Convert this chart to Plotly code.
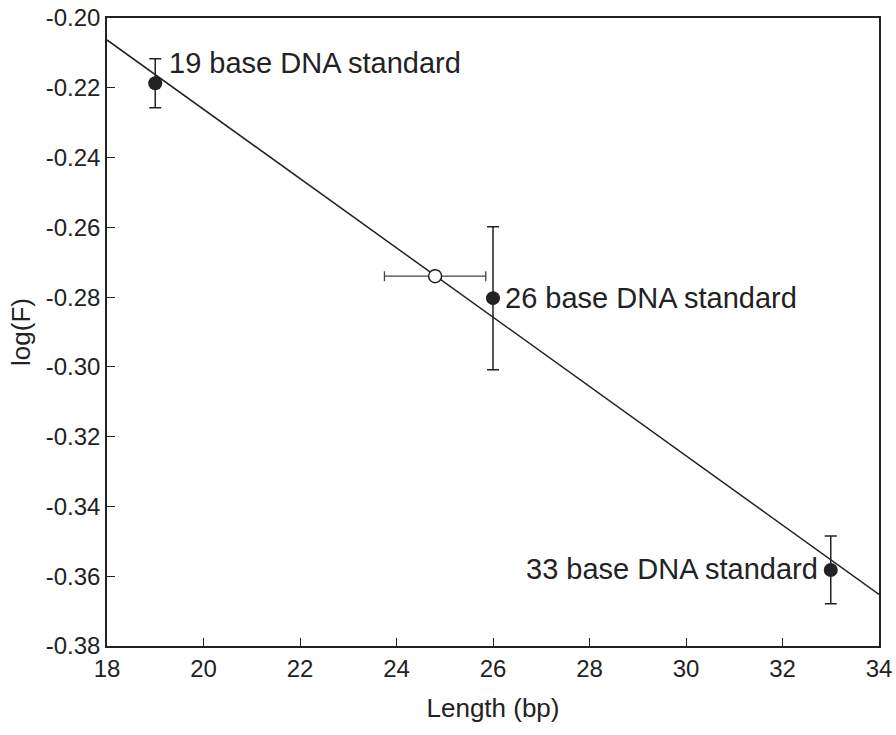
import plotly.graph_objects as go

# Data
std_length = [19, 26, 33]
std_logF = [-0.2187, -0.2803, -0.3582]
std_err = [0.0070, 0.0205, 0.0097]
std_labels = ["19 base DNA standard", "26 base DNA standard", "33 base DNA standard"]

unk_length = [24.80]
unk_logF = [-0.2740]
unk_xerr = [1.05]

fit_x = [18, 34]
fit_y = [-0.2063, -0.3652]

x_ticks = [18, 20, 22, 24, 26, 28, 30, 32, 34]
y_ticks = [-0.20, -0.22, -0.24, -0.26, -0.28, -0.30, -0.32, -0.34, -0.36, -0.38]

FONT = "Liberation Sans, Arial, sans-serif"
INK = "#222222"

fig = go.Figure()
fig.add_trace(go.Scatter(x=fit_x, y=fit_y, mode="lines",
                         line=dict(color=INK, width=1.5), showlegend=False, cliponaxis=True))
fig.add_trace(go.Scatter(x=unk_length, y=unk_logF, mode="markers",
                         marker=dict(size=13, color="white", line=dict(color=INK, width=1.5)),
                         error_x=dict(type="data", array=unk_xerr, color="#444444", thickness=1.3, width=5),
                         showlegend=False))
fig.add_trace(go.Scatter(x=std_length, y=std_logF, mode="markers",
                         marker=dict(size=14, color=INK),
                         error_y=dict(type="data", array=std_err, color=INK, thickness=1.5, width=6),
                         showlegend=False))

anchors = [("left", 19.25, -0.2130), ("left", 26.20, -0.2803), ("right", 32.78, -0.3580)]
for lab, (xa, ax, ay) in zip(std_labels, anchors):
    fig.add_annotation(x=ax, y=ay, text=lab, showarrow=False, xanchor=xa, yanchor="middle",
                       font=dict(family=FONT, size=29, color=INK))

axis_common = dict(showgrid=False, zeroline=False, showline=True, linecolor=INK, linewidth=1.5,
                   mirror=True, ticks="inside", ticklen=8, tickwidth=1.3, tickcolor=INK,
                   automargin=False,
                   tickfont=dict(family=FONT, size=24, color=INK))
fig.update_xaxes(range=[18, 34], tickvals=x_ticks, ticktext=[str(v) for v in x_ticks],
                 title=dict(text="Length (bp)", font=dict(family=FONT, size=26, color=INK), standoff=18),
                 **axis_common)
fig.update_yaxes(range=[-0.38, -0.20], tickvals=y_ticks, ticktext=[f"{v:.2f}" for v in y_ticks],
                 title=dict(text="log(F)", font=dict(family=FONT, size=26, color=INK), standoff=8),
                 **axis_common)
fig.update_layout(width=896, height=735, margin=dict(l=107, r=17, t=18, b=89),
                  plot_bgcolor="white", paper_bgcolor="white")
fig.write_html("out.html")
